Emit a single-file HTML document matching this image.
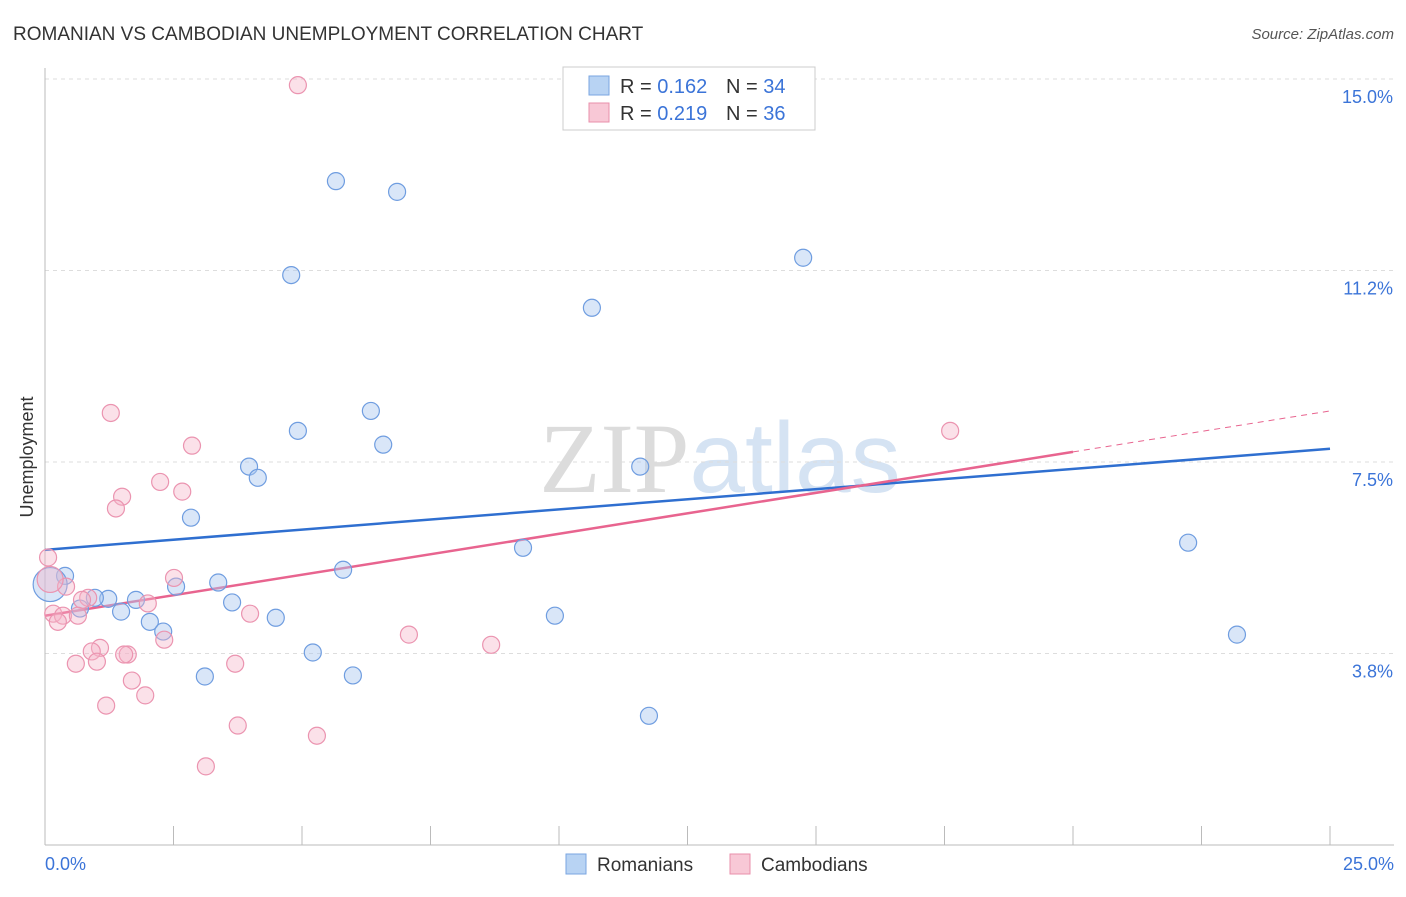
<!DOCTYPE html>
<html><head><meta charset="utf-8"><style>
body{margin:0;background:#fff;font-family:"Liberation Sans",sans-serif;}
svg text{font-family:"Liberation Sans",sans-serif;}
</style></head><body>
<svg id="chart" width="1406" height="892" xmlns="http://www.w3.org/2000/svg">
<text x="13" y="40" font-size="19" fill="#333">ROMANIAN VS CAMBODIAN UNEMPLOYMENT CORRELATION CHART</text>
<text x="1394" y="39" font-size="15" fill="#555" font-style="italic" text-anchor="end">Source: ZipAtlas.com</text>
<text x="720" y="492" font-size="100" text-anchor="middle" fill="#e4e4e4" font-family="Liberation Serif"><tspan fill="#dcdcdc" font-family="Liberation Serif">ZIP</tspan><tspan fill="#d5e3f3" font-family="Liberation Sans">atlas</tspan></text>
<g id="grid"></g><g id="axes"></g><g id="trend"></g><g id="pts"></g>
<text transform="translate(33,457) rotate(-90)" font-size="18" fill="#333" text-anchor="middle">Unemployment</text>
<g>
<rect x="563" y="67" width="252" height="63" fill="#fff" stroke="#ccc"/>
<rect x="589" y="76" width="20" height="19" fill="#b8d3f3" stroke="#7aa6e0"/>
<rect x="589" y="103" width="20" height="19" fill="#f8c8d6" stroke="#e98fab"/>
<text x="620" y="93" font-size="20" fill="#333">R = <tspan fill="#3b74d8">0.162</tspan><tspan x="726">N = </tspan><tspan fill="#3b74d8">34</tspan></text>
<text x="620" y="120" font-size="20" fill="#333">R = <tspan fill="#3b74d8">0.219</tspan><tspan x="726">N = </tspan><tspan fill="#3b74d8">36</tspan></text>
</g>
<g>
<rect x="566" y="854" width="20" height="20" fill="#b8d3f3" stroke="#7aa6e0"/>
<text x="597" y="871" font-size="19" fill="#333">Romanians</text>
<rect x="730" y="854" width="20" height="20" fill="#f8c8d6" stroke="#e98fab"/>
<text x="761" y="871" font-size="19" fill="#333">Cambodians</text>
</g>
</svg>
<script>
const yTicks=[15.0,11.25,7.5,3.75];
const yTickLabels=["15.0%","11.2%","7.5%","3.8%"];
const xLabels=["0.0%","25.0%"];
const romX=[5.66,6.85,4.79,14.75,10.64,6.34,4.92,6.58,3.97,4.14,11.58,2.84,9.30,22.24,5.80,0.39,3.37,2.55,1.23,1.77,3.64,0.68,1.48,4.49,9.92,2.04,2.30,23.19,5.21,3.11,5.99,11.75,0.10,0.97];
const romY=[13.00,12.79,11.16,11.50,10.52,8.50,8.11,7.84,7.41,7.19,7.41,6.41,5.82,5.92,5.39,5.27,5.14,5.06,4.82,4.80,4.75,4.63,4.57,4.45,4.49,4.37,4.18,4.12,3.77,3.30,3.32,2.53,5.10,4.84];
const camX=[4.92,1.28,2.86,2.24,2.67,1.50,1.38,17.61,0.06,2.51,0.41,0.84,0.72,2.00,0.16,0.35,0.64,3.99,0.25,2.32,7.08,8.68,1.07,0.91,1.61,1.54,0.60,1.01,3.70,1.69,1.95,1.19,3.75,5.29,3.13,0.10];
const camY=[14.88,8.46,7.82,7.11,6.92,6.82,6.59,8.11,5.63,5.23,5.06,4.84,4.80,4.73,4.53,4.49,4.49,4.53,4.37,4.02,4.12,3.92,3.86,3.79,3.73,3.73,3.55,3.59,3.55,3.22,2.93,2.73,2.34,2.14,1.54,5.20];
const romTrend=[5.78,7.76];
const camTrend=[4.49,8.50];
const camTrendSolidEnd=20;
const NS="http://www.w3.org/2000/svg";
const X=v=>45+v/25*1285, Y=v=>845-v/15*766;
function mk(p,t,a){const e=document.createElementNS(NS,t);for(const k in a)e.setAttribute(k,a[k]);document.getElementById(p).appendChild(e);return e;}
yTicks.forEach((t,i)=>{
 const l=mk('grid','line',{x1:45,x2:1394,y1:Y(t),y2:Y(t),stroke:'#ddd','stroke-dasharray':'4,4'});
 
 
 const tx=mk('axes','text',{x:1393,y:Y(t)+24,'font-size':18,fill:'#3b74d8','text-anchor':'end'});tx.textContent=yTickLabels[i];
 
 
});
let ax=mk('axes','line',{x1:45,x2:45,y1:68,y2:845,stroke:'#bbb'});


ax=mk('axes','line',{x1:45,x2:1394,y1:845,y2:845,stroke:'#bbb'});


for(let i=1;i<=10;i++){const t=mk('axes','line',{x1:X(i*2.5),x2:X(i*2.5),y1:826,y2:845,stroke:'#bbb'});
 
 }
[[0,'start',45],[25,'end',1394]].forEach((d,i)=>{const t=mk('axes','text',{x:d[2],y:870,'font-size':18,fill:'#3b74d8','text-anchor':d[1]});t.textContent=xLabels[i];
 
 });
let tl=mk('trend','line',{x1:X(0),y1:Y(romTrend[0]),x2:X(25),y2:Y(romTrend[1]),stroke:'#2f6fd0','stroke-width':2.5});


const cy=v=>camTrend[0]+(camTrend[1]-camTrend[0])*v/25;
tl=mk('trend','line',{x1:X(0),y1:Y(cy(0)),x2:X(camTrendSolidEnd),y2:Y(cy(camTrendSolidEnd)),stroke:'#e8648f','stroke-width':2.5});


tl=mk('trend','line',{x1:X(camTrendSolidEnd),y1:Y(cy(camTrendSolidEnd)),x2:X(25),y2:Y(cy(25)),stroke:'#e8648f','stroke-width':1,'stroke-dasharray':'6,5'});


romX.forEach((x,i)=>{const c=mk('pts','circle',{cx:X(x),cy:Y(romY[i]),r:i==32?17:8.5,fill:'rgba(170,200,240,0.45)',stroke:'#6f9de0','stroke-width':1.2});
 
 });
camX.forEach((x,i)=>{const c=mk('pts','circle',{cx:X(x),cy:Y(camY[i]),r:i==35?13:8.5,fill:'rgba(245,180,200,0.4)',stroke:'#eb94b0','stroke-width':1.2});
 
 });
</script>
</body></html>
